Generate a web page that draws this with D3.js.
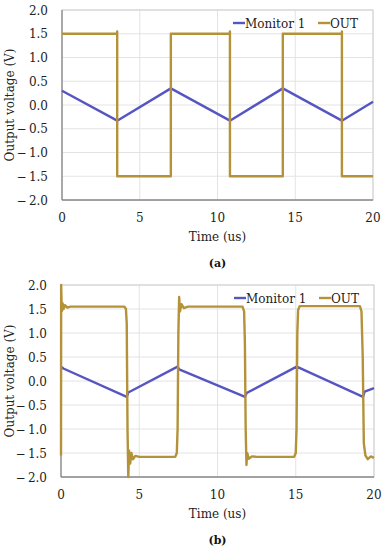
<!DOCTYPE html>
<html>
<head>
<meta charset="utf-8">
<script src="https://cdn.jsdelivr.net/npm/d3@7"></script>
<style>
  body { margin: 0; background: #fff; }
</style>
</head>
<body>
<svg width="384" height="550"></svg>
<script>
// ---- data ----
var xTicks = [0, 5, 10, 15, 20]
var yTicks = [-2.0, -1.5, -1.0, -0.5, 0.0, 0.5, 1.0, 1.5, 2.0]
var seriesNames = ["Monitor 1", "OUT"]

// (a) ideal simulation
var monitorA = [[0, 0.3], [3.55, -0.33], [7.0, 0.35], [10.8, -0.33], [14.2, 0.35], [18.0, -0.33], [20, 0.07]]
var outA = [[0, 1.5], [3.55, 1.5], [3.55, 1.55], [3.55, -1.5], [7.0, -1.5], [7.0, 1.5], [10.8, 1.5],
  [10.8, 1.55], [10.8, -1.5], [14.2, -1.5], [14.2, 1.5], [18.0, 1.5], [18.0, 1.55], [18.0, -1.5], [20, -1.5]]

// (b) measured
var monitorB = [[0, 0.3], [0.15, 0.26], [4.2, -0.33], [4.3, -0.24], [7.45, 0.3], [7.55, 0.24],
  [11.76, -0.33], [11.86, -0.25], [15.06, 0.3], [19.3, -0.33], [19.4, -0.22], [20, -0.15]]
var outB = [[0, -1.55], [0.01, 2.0], [0.05, 1.45], [0.1, 1.62], [0.16, 1.5], [0.25, 1.58], [0.4, 1.53],
  [0.6, 1.55], [4.05, 1.55], [4.15, 1.5], [4.2, 1.2], [4.25, -1.0], [4.3, -2.0], [4.35, -1.45],
  [4.42, -1.72], [4.5, -1.5], [4.6, -1.63], [4.75, -1.56], [5.0, -1.58], [7.3, -1.58], [7.4, -1.5],
  [7.45, -1.0], [7.5, 1.0], [7.55, 1.75], [7.6, 1.45], [7.7, 1.6], [7.85, 1.52], [8.1, 1.55],
  [11.6, 1.55], [11.7, 1.45], [11.75, 0.8], [11.8, -1.0], [11.85, -1.75], [11.9, -1.5], [12.0, -1.62],
  [12.2, -1.57], [12.5, -1.58], [14.9, -1.58], [15.0, -1.5], [15.05, -1.0], [15.1, 1.0], [15.15, 1.48],
  [15.25, 1.56], [19.1, 1.56], [19.2, 1.45], [19.28, 0.5], [19.35, -1.3], [19.45, -1.55], [19.6, -1.63],
  [19.8, -1.57], [20, -1.6]]

var colors = { "Monitor 1": "#5656c2", "OUT": "#b3923a" }
var font = "DejaVu Serif"
var fs = 12

var svg = d3.select("svg").attr("font-family", font)

function drawPanel(box, monitor, out, caption) {
  var x = d3.scaleLinear().domain([0, 20]).range([box.left, box.right])
  var y = d3.scaleLinear().domain([-2, 2]).range([box.bottom, box.top])
  var g = svg.append("g")

  // grid
  g.selectAll(".hg").data(yTicks).enter().append("line")
    .attr("x1", box.left).attr("x2", box.right)
    .attr("y1", function(d) { return y(d) }).attr("y2", function(d) { return y(d) })
    .attr("stroke", "#e3e3e3").attr("stroke-width", 1)
  g.selectAll(".vg").data(xTicks).enter().append("line")
    .attr("y1", box.top).attr("y2", box.bottom)
    .attr("x1", function(d) { return x(d) }).attr("x2", function(d) { return x(d) })
    .attr("stroke", "#e3e3e3").attr("stroke-width", 1)

  // frame: light top/right, darker left/bottom
  g.append("rect").attr("x", box.left).attr("y", box.top)
    .attr("width", box.right - box.left).attr("height", box.bottom - box.top)
    .attr("fill", "none").attr("stroke", "#d0d0d0")
  g.append("line").attr("x1", box.left).attr("x2", box.left).attr("y1", box.top).attr("y2", box.bottom)
    .attr("stroke", "#8c8c8c").attr("stroke-width", 1.3)
  g.append("line").attr("x1", box.left).attr("x2", box.right).attr("y1", box.bottom).attr("y2", box.bottom)
    .attr("stroke", "#8c8c8c").attr("stroke-width", 1.3)

  // tick labels
  g.selectAll(".yl").data(yTicks).enter().append("text")
    .attr("x", box.left - 14).attr("y", function(d) { return y(d) + 4.5 })
    .attr("text-anchor", "end").attr("font-size", fs).attr("fill", "#222")
    .text(function(d) { return (d < 0 ? "\u2212\u2009" : "") + Math.abs(d).toFixed(1) })
  g.selectAll(".xl").data(xTicks).enter().append("text")
    .attr("x", function(d) { return x(d) }).attr("y", box.bottom + 22)
    .attr("text-anchor", "middle").attr("font-size", fs).attr("fill", "#222")
    .text(function(d) { return d })

  g.append("text").attr("x", (box.left + box.right) / 2).attr("y", box.bottom + 41)
    .attr("text-anchor", "middle").attr("font-size", fs).attr("fill", "#222").text("Time (us)")
  g.append("text")
    .attr("transform", "translate(14," + ((box.top + box.bottom) / 2) + ") rotate(-90)")
    .attr("text-anchor", "middle").attr("font-size", fs).attr("fill", "#222").text("Output voltage (V)")
  g.append("text").attr("x", (box.left + box.right) / 2).attr("y", box.bottom + 67)
    .attr("text-anchor", "middle").attr("font-size", 11).attr("font-weight", "bold")
    .attr("fill", "#111").text(caption)

  var line = d3.line().x(function(d) { return x(d[0]) }).y(function(d) { return y(d[1]) })
  g.append("path").datum(monitor).attr("d", line).attr("fill", "none")
    .attr("stroke", colors["Monitor 1"]).attr("stroke-width", 2.4).attr("stroke-linejoin", "round")
  g.append("path").datum(out).attr("d", line).attr("fill", "none")
    .attr("stroke", colors["OUT"]).attr("stroke-width", 2.4).attr("stroke-linejoin", "round")

  // legend
  var lx = [box.right - 140, box.right - 55]
  var leg = g.selectAll(".leg").data(seriesNames).enter().append("g")
    .attr("transform", function(d, i) { return "translate(" + lx[i] + "," + (box.top + 13) + ")" })
  leg.append("line").attr("x1", 0).attr("x2", 12).attr("y1", 0).attr("y2", 0)
    .attr("stroke", function(d) { return colors[d] }).attr("stroke-width", 2.4)
  leg.append("text").attr("x", 12).attr("y", 4.5).attr("font-size", fs).attr("fill", "#222")
    .text(function(d) { return d })
}

drawPanel({ left: 62, right: 373, top: 10, bottom: 200 }, monitorA, outA, "(a)")
drawPanel({ left: 61, right: 374, top: 285, bottom: 477 }, monitorB, outB, "(b)")
</script>
</body>
</html>
